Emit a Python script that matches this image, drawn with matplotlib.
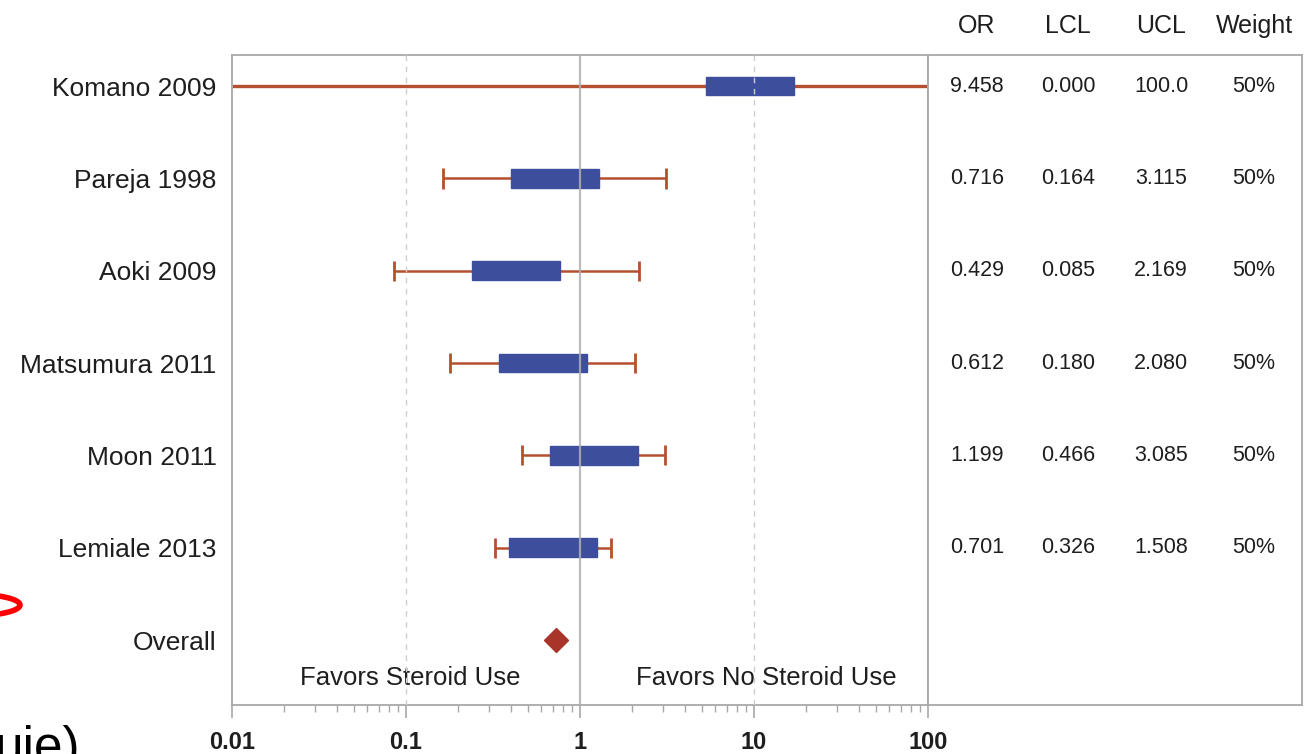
import matplotlib
matplotlib.use("Agg")
import matplotlib.pyplot as plt
import matplotlib.transforms as mtransforms
from matplotlib.patches import Rectangle
from matplotlib.lines import Line2D
from matplotlib.ticker import FixedLocator, LogLocator, NullFormatter
import numpy as np

# ---------------- data ----------------
studies = ["Komano 2009", "Pareja 1998", "Aoki 2009", "Matsumura 2011", "Moon 2011", "Lemiale 2013"]
overall_label = "Overall"
or_vals = [9.458, 0.716, 0.429, 0.612, 1.199, 0.701]
lcl_vals = [0.000, 0.164, 0.085, 0.180, 0.466, 0.326]
ucl_vals = [100.0, 3.115, 2.169, 2.080, 3.085, 1.508]
weights = [50, 50, 50, 50, 50, 50]
overall_or = 0.73
x_ticks = [0.01, 0.1, 1, 10, 100]
x_tick_labels = ["0.01", "0.1", "1", "10", "100"]
table_headers = ["OR", "LCL", "UCL", "Weight"]
favors_left = "Favors Steroid Use"
favors_right = "Favors No Steroid Use"

# ---------------- style ----------------
plt.rcParams["font.family"] = ["Liberation Sans", "DejaVu Sans"]
W, H = 1311, 754
WHISKER = "#B4502F"
BOX = "#3D4E9C"
DIAMOND = "#A9342A"
SPINE = "#A8A8A8"
TEXT = "#1E1E1E"
box_half_decades = 0.253
box_half_h = 0.10
cap_half_h = 0.11


def fx(px):
    return px / W


def fy(py):
    return 1 - py / H


fig = plt.figure(figsize=(W / 100, H / 100), dpi=100)
fig.patch.set_facecolor("white")

ax = fig.add_axes([fx(232), fy(705), fx(928) - fx(232), fy(55) - fy(705)])
tab = fig.add_axes([fx(928), fy(705), fx(1302) - fx(928), fy(55) - fy(705)])

xmin, xmax = x_ticks[0], x_ticks[-1]
ax.set_xscale("log")
ax.set_xlim(xmin, xmax)
ylim = (len(studies) + 0.704, -0.336)
ax.set_ylim(*ylim)

for i, (o, lo, hi) in enumerate(zip(or_vals, lcl_vals, ucl_vals)):
    a = max(lo, xmin)
    b = min(hi, xmax)
    lw = 2.4 if (lo <= xmin or hi >= xmax) else 1.8
    ax.plot([a, b], [i, i], color=WHISKER, lw=lw, solid_capstyle="butt", zorder=2)
    for v in (lo, hi):
        if xmin < v < xmax:
            ax.plot([v, v], [i - cap_half_h, i + cap_half_h], color=WHISKER, lw=2.0,
                    solid_capstyle="butt", zorder=2)
    left = o / 10 ** box_half_decades
    right = o * 10 ** box_half_decades
    ax.add_patch(Rectangle((left, i - box_half_h), right - left, 2 * box_half_h,
                           facecolor=BOX, edgecolor=BOX, lw=1, zorder=3))

ax.plot([overall_or], [len(studies)], marker="D", ms=12, color=DIAMOND,
        markeredgecolor=DIAMOND, zorder=4, ls="none")

# reference lines
ax.axvline(1, color="#B0B0B0", lw=1.6, alpha=0.85, zorder=5)
for v in (0.1, 10):
    ax.axvline(v, color="#CFCFCF", lw=1.0, ls=(0, (4, 4)), zorder=5)

# y axis labels
ax.set_yticks(range(len(studies) + 1))
ax.set_yticklabels(studies + [overall_label])
ax.tick_params(axis="y", length=0, pad=11, labelsize=19, labelcolor=TEXT)

# x axis
ax.xaxis.set_major_locator(FixedLocator(x_ticks))
ax.set_xticklabels(x_tick_labels)
ax.xaxis.set_minor_locator(LogLocator(base=10, subs=np.arange(2, 10)))
ax.xaxis.set_minor_formatter(NullFormatter())
ax.tick_params(axis="x", which="major", length=9, width=1.2, color=SPINE,
               labelsize=17, pad=10, labelcolor=TEXT)
ax.tick_params(axis="x", which="minor", length=5, width=1.0, color=SPINE)
for lab in ax.get_xticklabels():
    lab.set_fontweight("bold")

for s in ax.spines.values():
    s.set_color(SPINE)
    s.set_linewidth(1.3)

blend = mtransforms.blended_transform_factory(ax.transAxes, ax.transData)
ax.text(0.2557, 6.414, favors_left, transform=blend, ha="center", va="center",
        fontsize=18.5, color=TEXT)
ax.text(0.7672, 6.414, favors_right, transform=blend, ha="center", va="center",
        fontsize=18.5, color=TEXT)

# table panel
tab.set_xlim(0, 1)
tab.set_ylim(*ylim)
tab.set_xticks([])
tab.set_yticks([])
for s in tab.spines.values():
    s.set_color(SPINE)
    s.set_linewidth(1.3)
col_x = [0.131, 0.374, 0.623, 0.872]


def fmt5(v):
    digits = len(str(int(v)))
    return f"{v:.{max(4 - digits, 0)}f}"


for cx, h in zip(col_x, table_headers):
    tab.text(cx, 1.044, h, transform=tab.transAxes, ha="center", va="center",
             fontsize=18, color=TEXT, clip_on=False)
tblend = mtransforms.blended_transform_factory(tab.transAxes, tab.transData)
for i in range(len(studies)):
    vals = [fmt5(or_vals[i]), fmt5(lcl_vals[i]), fmt5(ucl_vals[i]), f"{weights[i]}%"]
    for cx, t in zip(col_x, vals):
        tab.text(cx, i, t, transform=tblend, ha="center", va="center",
                 fontsize=15.5, color=TEXT)

# slide decorations (partially visible, as in the source screenshot)
ang = np.radians(np.linspace(-70, 70, 60))
arc_x = (-30 + 50 * np.cos(ang)) / W
arc_y = 1 - (605 - 11 * np.sin(ang)) / H
fig.add_artist(Line2D(arc_x, arc_y, transform=fig.transFigure, color="#FF0000", lw=4))
fig.text(-5 / W, 1 - 763 / H, "uie)", fontsize=37, ha="left", va="baseline", color="black")

fig.savefig("out.png", dpi=100)
